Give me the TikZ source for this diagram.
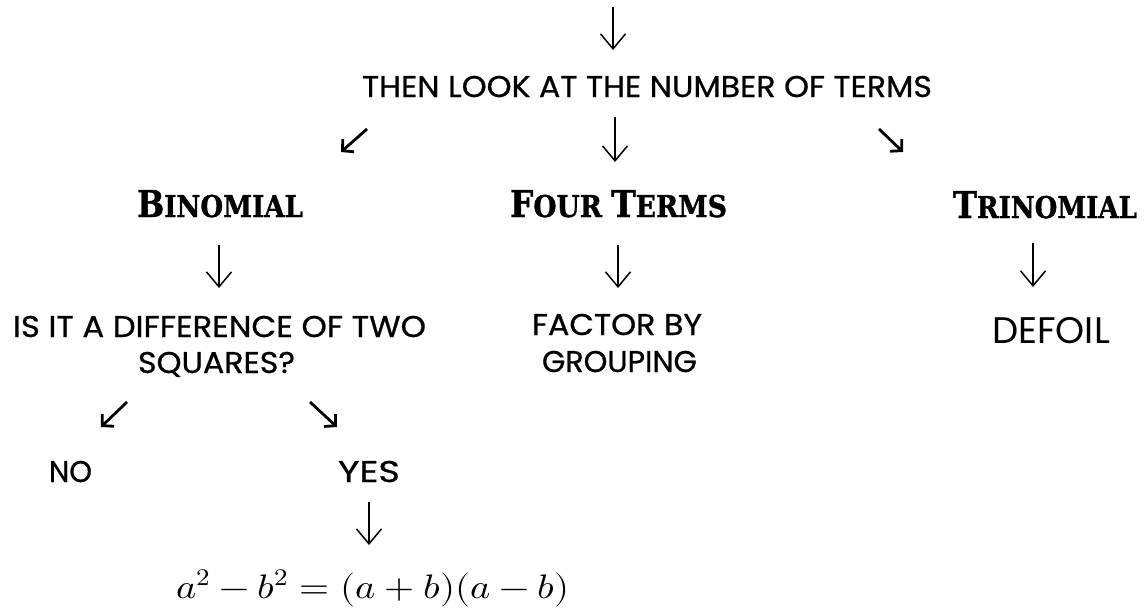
\documentclass[tikz,border=0pt]{standalone}
\usepackage{fontspec}
\usepackage{unicode-math}
\setmathfont{Latin Modern Math}
\usetikzlibrary{arrows.meta}
\newfontfamily\comicf{Poppins}[FakeBold=0.7]
\newfontfamily\headf{DejaVu Serif}[FakeBold=1.2]
\newfontfamily\gothf{Poppins}
\newcommand\fitw[2]{\sbox0{#2}\pgfmathsetmacro\fitfac{#1/\the\wd0}\scalebox{\fitfac}[1]{\usebox0}}
\newcommand\hsc[2]{{\fontsize{37}{40}\selectfont #1}{\fontsize{30}{36}\selectfont #2}}
\begin{document}
\begin{tikzpicture}[x=1pt,y=-1pt,
  txt/.style={anchor=base,inner sep=0pt,font=\comicf\fontsize{30}{36}\selectfont},
  head/.style={anchor=base,inner sep=0pt,font=\headf\bfseries},
  goth/.style={anchor=base,inner sep=0pt,font=\gothf\fontsize{37}{44}\selectfont},
  formula/.style={anchor=base,inner sep=0pt,font=\fontsize{34}{40}\selectfont},
  darr/.style={line width=1.5pt,-{Straight Barb[length=15pt,width=25pt]}},
  dgarr/.style={line width=2.8pt,-{Straight Barb[length=8pt,width=17pt]}}]
\useasboundingbox (0,0) rectangle (1144,608);

% text nodes
\node[txt] (look) at (647,97) {\fitw{570}{THEN LOOK AT THE NUMBER OF TERMS}};
\node[head] (bin) at (220,217) {\fitw{166}{\hsc{B}{INOMIAL}}};
\node[head] (four) at (618.5,217) {\fitw{217}{\hsc{F}{OUR }\hsc{T}{ERMS}}};
\node[head] (tri) at (1045,218) {\fitw{184}{\hsc{T}{RINOMIAL}}};
\node[txt] (diffa) at (219.5,337) {\fitw{413}{IS IT A DIFFERENCE OF TWO}};
\node[txt] (diffb) at (216.5,373) {\fitw{157}{SQUARES?}};
\node[txt] (facta) at (617,335) {\fitw{170}{FACTOR BY}};
\node[txt] (factb) at (619.5,372) {\fitw{155}{GROUPING}};
\node[goth] (defoil) at (1051,343) {\fitw{118}{DEFOIL}};
\node[txt] (no) at (70.5,482) {\fitw{43}{NO}};
\node[txt] (yes) at (369,482) {\fitw{62}{YES}};
\node[formula] (form) at (373,598) {\fitw{394}{$a^2-b^2=(a+b)(a-b)$}};

% arrow end points
\coordinate (t0) at (613,7);    \coordinate (t1) at (613,50);
\coordinate (l0) at (367,129);  \coordinate (l1) at (341,152);
\coordinate (m0) at (615,117);  \coordinate (m1) at (615,162);
\coordinate (r0) at (879,129);  \coordinate (r1) at (903,152);
\coordinate (b0) at (219,245);  \coordinate (b1) at (219,288);
\coordinate (f0) at (618,245);  \coordinate (f1) at (618,288);
\coordinate (c0) at (1033,243); \coordinate (c1) at (1033,287);
\coordinate (n0) at (127,402);  \coordinate (n1) at (101,427);
\coordinate (y0) at (310,402);  \coordinate (y1) at (337,427);
\coordinate (z0) at (369,502);  \coordinate (z1) at (369,545);

\draw[darr] (t0) -- (t1);
\draw[dgarr] (l0) -- (l1);
\draw[darr] (m0) -- (m1);
\draw[dgarr] (r0) -- (r1);
\draw[darr] (b0) -- (b1);
\draw[darr] (f0) -- (f1);
\draw[darr] (c0) -- (c1);
\draw[dgarr] (n0) -- (n1);
\draw[dgarr] (y0) -- (y1);
\draw[darr] (z0) -- (z1);
\end{tikzpicture}
\end{document}
